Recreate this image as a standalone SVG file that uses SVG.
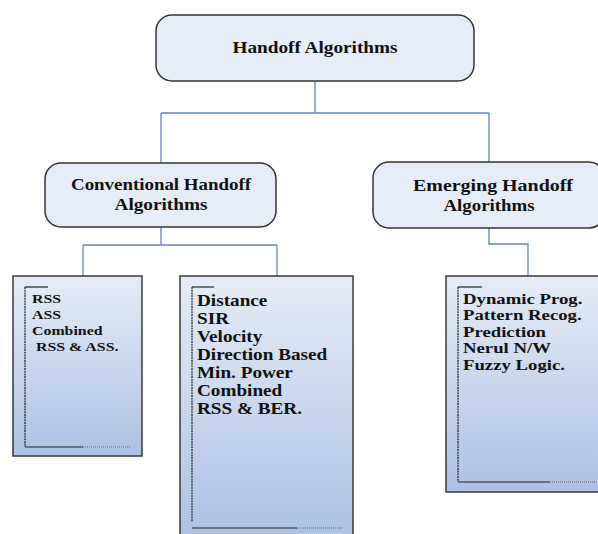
<svg xmlns="http://www.w3.org/2000/svg" width="598" height="534" viewBox="0 0 598 534">
<defs>
<linearGradient id="g" x1="0" y1="0" x2="0" y2="1">
<stop offset="0" stop-color="#e6ecf6"/>
<stop offset="1" stop-color="#adc1e3"/>
</linearGradient>
<style>
.hdr{fill:#e7edf8;stroke:#333;stroke-width:1.5}
.lst{fill:url(#g);stroke:#3a3a3a;stroke-width:1.5}
.con{fill:none;stroke:#5b86c4;stroke-width:1.3}
.br{fill:none;stroke:#222;stroke-width:1.2}
.brd{fill:none;stroke:#222;stroke-width:1.2;stroke-dasharray:2 0.7}
.dot{fill:none;stroke:#666;stroke-width:1;stroke-dasharray:1 1}
text{font-family:"Liberation Serif","Times New Roman",serif;font-weight:bold;fill:#111}
.t1{font-size:16px;text-anchor:middle}
.s13{font-size:13px}
.s16{font-size:16px}
.s15{font-size:15px}
</style>
</defs>
<g id="connectors">
<path class="con" d="M315 81V113M161 113H489M161 113V163M489 113V162"/>
<path class="con" d="M161 227V245M83 245H277M83 245V276M277 245V276"/>
<path class="con" d="M489 228V244H528V276"/>
</g>
<g id="handoff">
<rect class="hdr" x="156" y="15" width="318" height="66" rx="16"/>
<text class="t1" x="315" y="53" textLength="165" lengthAdjust="spacingAndGlyphs">Handoff Algorithms</text>
</g>
<g id="conventional">
<rect class="hdr" x="45" y="163" width="231" height="64" rx="16"/>
<text class="t1" x="161" y="190" textLength="180" lengthAdjust="spacingAndGlyphs">Conventional Handoff</text>
<text class="t1" x="161" y="210" textLength="93" lengthAdjust="spacingAndGlyphs">Algorithms</text>
</g>
<g id="emerging">
<rect class="hdr" x="373" y="162" width="232" height="66" rx="16"/>
<text class="t1" x="493" y="191" textLength="160" lengthAdjust="spacingAndGlyphs">Emerging Handoff</text>
<text class="t1" x="489" y="211" textLength="91" lengthAdjust="spacingAndGlyphs">Algorithms</text>
</g>
<g id="list-rss">
<rect class="lst" x="13" y="276" width="129" height="180"/>
<path class="br" d="M25 287H48"/>
<path class="brd" d="M25 287V447"/>
<path class="br" d="M25 447H83"/>
<path class="dot" d="M83 447H130"/>
<g transform="translate(32 0) scale(1.22 1)">
<text class="s13" x="0" y="303">RSS</text>
<text class="s13" x="0" y="319">ASS</text>
<text class="s13" x="0" y="335">Combined</text>
<text class="s13" x="3.3" y="351">RSS &amp; ASS.</text>
</g>
</g>
<g id="list-distance">
<rect class="lst" x="180" y="276" width="173" height="262"/>
<path class="br" d="M192 287H214"/>
<path class="brd" d="M192 287V522"/>
<path class="br" d="M192 528H297"/>
<path class="dot" d="M297 528H342"/>
<g transform="translate(197 0) scale(1.2 1)">
<text class="s16" x="0" y="306">Distance</text>
<text class="s16" x="0" y="324">SIR</text>
<text class="s16" x="0" y="342">Velocity</text>
<text class="s16" x="0" y="360">Direction Based</text>
<text class="s16" x="0" y="378">Min. Power</text>
<text class="s16" x="0" y="396">Combined</text>
<text class="s16" x="0" y="414">RSS &amp; BER.</text>
</g>
</g>
<g id="list-emerging">
<rect class="lst" x="446" y="276" width="160" height="216"/>
<path class="br" d="M458 287H482"/>
<path class="brd" d="M458 287V482"/>
<path class="br" d="M458 482H550"/>
<path class="dot" d="M550 482H600"/>
<g transform="translate(463 0) scale(1.25 1)">
<text class="s15" x="0" y="304">Dynamic Prog.</text>
<text class="s15" x="0" y="320.5">Pattern Recog.</text>
<text class="s15" x="0" y="337">Prediction</text>
<text class="s15" x="0" y="353.5">Nerul N/W</text>
<text class="s15" x="0" y="370">Fuzzy Logic.</text>
</g>
</g>
</svg>
